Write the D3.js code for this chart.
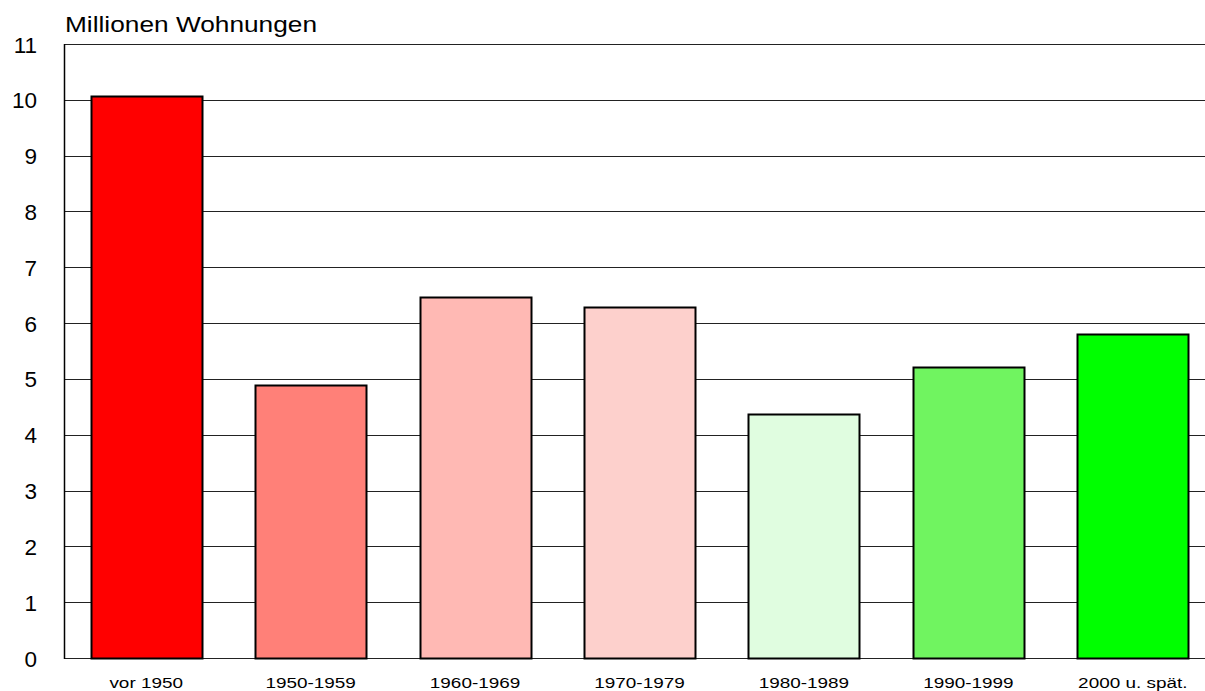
<!DOCTYPE html>
<html>
<head>
<meta charset="utf-8">
<script src="https://cdn.jsdelivr.net/npm/d3@7"></script>
<style>
  body { margin: 0; background: #fff; }
  text { font-family: "Liberation Sans", Arial, sans-serif; fill: #000; }
</style>
</head>
<body>
<svg width="1205" height="691"></svg>
<script>
// data
var categories = ["vor 1950", "1950-1959", "1960-1969", "1970-1979", "1980-1989", "1990-1999", "2000 u. spät."];
var values = [10.07, 4.89, 6.47, 6.29, 4.37, 5.21, 5.80];
var barColors = ["#ff0000", "#ff8078", "#ffb9b4", "#fdd0cc", "#e0fde0", "#70f460", "#00ff00"];
var yTicks = [0, 1, 2, 3, 4, 5, 6, 7, 8, 9, 10, 11];

var svg = d3.select("svg"),
    mLeft = 64, mRight = 1215, mTop = 44, mBottom = 658;

var x = d3.scaleBand()
    .domain(categories)
    .range([mLeft, mRight])
    .paddingInner(0.325)
    .paddingOuter(0.1625);

var y = d3.scaleLinear()
    .domain([0, 11])
    .range([mBottom, mTop]);

// gridlines
svg.append("g")
    .selectAll("line")
    .data(yTicks)
    .enter().append("line")
    .attr("x1", mLeft)
    .attr("x2", 1205)
    .attr("y1", d => Math.round(y(d)) + 0.5)
    .attr("y2", d => Math.round(y(d)) + 0.5)
    .attr("stroke", "#222")
    .attr("stroke-width", 1);

// y labels
svg.append("g")
    .selectAll("text")
    .data(yTicks)
    .enter().append("text")
    .attr("x", 37)
    .attr("y", d => y(d) + 8.5)
    .attr("text-anchor", "end")
    .style("font-size", "22.5px")
    .text(d => d);

// bars
svg.append("g")
    .selectAll("rect")
    .data(values)
    .enter().append("rect")
    .attr("x", (d, i) => Math.round(x(categories[i])) + 0.5)
    .attr("y", d => Math.round(y(d)) + 0.5)
    .attr("width", Math.round(x.bandwidth()))
    .attr("height", d => Math.round(y(0)) - Math.round(y(d)))
    .attr("fill", (d, i) => barColors[i])
    .attr("stroke", "#000")
    .attr("stroke-width", 2);

// y axis line
svg.append("line")
    .attr("x1", mLeft + 0.5).attr("x2", mLeft + 0.5)
    .attr("y1", mTop).attr("y2", mBottom + 1)
    .attr("stroke", "#000")
    .attr("stroke-width", 1.5);

// x labels (the source font renders wider, so stretch a bit)
svg.append("g")
    .selectAll("text")
    .data(categories)
    .enter().append("text")
    .attr("x", d => x(d) + x.bandwidth() / 2)
    .attr("y", 688)
    .attr("text-anchor", "middle")
    .style("font-size", "15.5px")
    .text(d => d)
    .each(function(){
        var w = this.getComputedTextLength();
        d3.select(this)
            .attr("textLength", w * 1.22)
            .attr("lengthAdjust", "spacingAndGlyphs");
    });

// title
var title = svg.append("text")
    .attr("x", 65)
    .attr("y", 32)
    .style("font-size", "21.5px")
    .text("Millionen Wohnungen");
title.attr("textLength", 252).attr("lengthAdjust", "spacingAndGlyphs");
</script>
</body>
</html>
